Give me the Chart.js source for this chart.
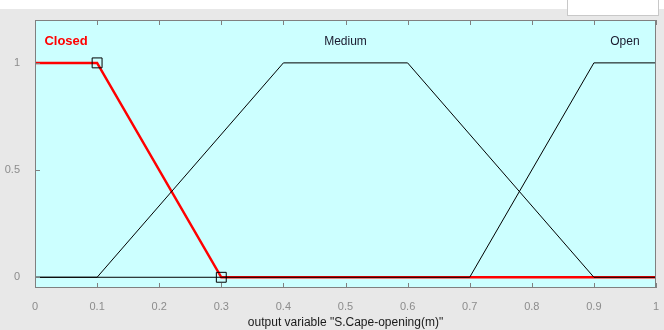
<!DOCTYPE html>
<html>
<head>
<meta charset="utf-8">
<script src="https://cdn.jsdelivr.net/npm/chart.js@4"></script>
<style>
  html, body { margin: 0; padding: 0; background: #e8e8e8; overflow: hidden; }
  #wrap { position: relative; width: 664px; height: 330px; }
  #topStrip { position: absolute; left: 0; top: 0; width: 664px; height: 9px; background: #fff; }
  #box { position: absolute; left: 567px; top: -1px; width: 90px; height: 15px; background: #fff; border: 1px solid #c8c8c8; }
  canvas { position: absolute; left: 0; top: 0; }
</style>
</head>
<body>
<div id="wrap">
  <div id="topStrip"></div>
  <div id="box"></div>
  <canvas id="chart" width="664" height="330"></canvas>
</div>
<script>
// membership functions of output "S.Cape-opening(m)"
const closedX = [0, 0.1, 0.3, 1];
const closedY = [1, 1, 0, 0];
const mediumX = [0, 0.1, 0.4, 0.6, 0.9, 1];
const mediumY = [0, 0, 1, 1, 0, 0];
const openX = [0, 0.7, 0.9, 1];
const openY = [0, 0, 1, 1];
const markerX = [0.1, 0.3];
const markerY = [1, 0];
const mfNames = ['Closed', 'Medium', 'Open'];
const labelX = [0.05, 0.5, 0.95];
const labelY = 1.1;
const xTicks = [0, 0.1, 0.2, 0.3, 0.4, 0.5, 0.6, 0.7, 0.8, 0.9, 1];
const yTicks = [0, 0.5, 1];

const pts = (xs, ys) => xs.map((x, i) => ({ x, y: ys[i] }));
const FONT = 'Liberation Sans, Arial, sans-serif';

const areaPlugin = {
  id: 'area',
  beforeDatasetsDraw(chart) {
    const { ctx, chartArea: a } = chart;
    ctx.save();
    ctx.fillStyle = '#ccffff';
    ctx.fillRect(a.left, a.top, a.right - a.left, a.bottom - a.top);
    ctx.restore();
  },
  afterDatasetsDraw(chart) {
    const { ctx, chartArea: a, scales } = chart;
    ctx.save();
    ctx.strokeStyle = '#808080';
    ctx.lineWidth = 1;
    ctx.beginPath();
    xTicks.forEach(v => {
      const px = Math.round(scales.x.getPixelForValue(v)) + 0.5;
      ctx.moveTo(px, a.bottom); ctx.lineTo(px, a.bottom - 5);
      ctx.moveTo(px, a.top); ctx.lineTo(px, a.top + 5);
    });
    yTicks.forEach(v => {
      const py = Math.round(scales.y.getPixelForValue(v)) + 0.5;
      ctx.moveTo(a.left, py); ctx.lineTo(a.left + 5, py);
    });
    ctx.stroke();
    ctx.strokeRect(a.left + 0.5, a.top + 0.5, a.right - a.left - 1, a.bottom - a.top - 1);

    ctx.textAlign = 'center';
    ctx.textBaseline = 'middle';
    mfNames.forEach((name, i) => {
      const px = scales.x.getPixelForValue(labelX[i]);
      const py = scales.y.getPixelForValue(labelY);
      if (i === 0) {
        ctx.font = 'bold 13px ' + FONT;
        ctx.fillStyle = '#ff0000';
      } else {
        ctx.font = '12px ' + FONT;
        ctx.fillStyle = '#1a1a2e';
      }
      ctx.fillText(name, px, py);
    });
    ctx.restore();
  }
};

new Chart(document.getElementById('chart'), {
  type: 'line',
  data: {
    datasets: [
      { data: pts(markerX, markerY), showLine: false, pointStyle: 'rect', pointRadius: 7,
        pointBorderColor: '#000', pointBackgroundColor: 'rgba(0,0,0,0)', pointBorderWidth: 1, order: 0 },
      { data: pts(mediumX, mediumY), borderColor: '#000', borderWidth: 1, pointRadius: 0, order: 1 },
      { data: pts(openX, openY), borderColor: '#000', borderWidth: 1, pointRadius: 0, order: 1 },
      { data: pts(closedX, closedY), borderColor: '#ff0000', borderWidth: 2.5, pointRadius: 0, order: 2 }
    ]
  },
  options: {
    responsive: false,
    animation: false,
    layout: { padding: { top: 20, right: 2, left: 0, bottom: 0 } },
    plugins: { legend: { display: false }, tooltip: { enabled: false } },
    scales: {
      x: {
        type: 'linear', min: 0, max: 1,
        afterBuildTicks: s => { s.ticks = xTicks.map(v => ({ value: v })); },
        afterFit: s => { s.height = 42; s.paddingRight = 0; s.paddingLeft = 0; },
        grid: { display: false },
        border: { display: false },
        ticks: { color: '#8c8c8c', font: { family: FONT, size: 11 }, padding: 4, maxRotation: 0,
                 callback: v => String(v) },
        title: { display: true, text: 'output variable "S.Cape-opening(m)"', color: '#1a1a1a',
                 font: { family: FONT, size: 12 }, padding: { top: 2, bottom: 0 } }
      },
      y: {
        min: -0.05, max: 1.2,
        afterBuildTicks: s => { s.ticks = yTicks.map(v => ({ value: v })); },
        afterFit: s => { s.width = 35; },
        grid: { display: false },
        border: { display: false },
        ticks: { color: '#8c8c8c', font: { family: FONT, size: 11 }, padding: 7,
                 callback: v => String(v) }
      }
    }
  },
  plugins: [areaPlugin]
});
</script>
</body>
</html>
